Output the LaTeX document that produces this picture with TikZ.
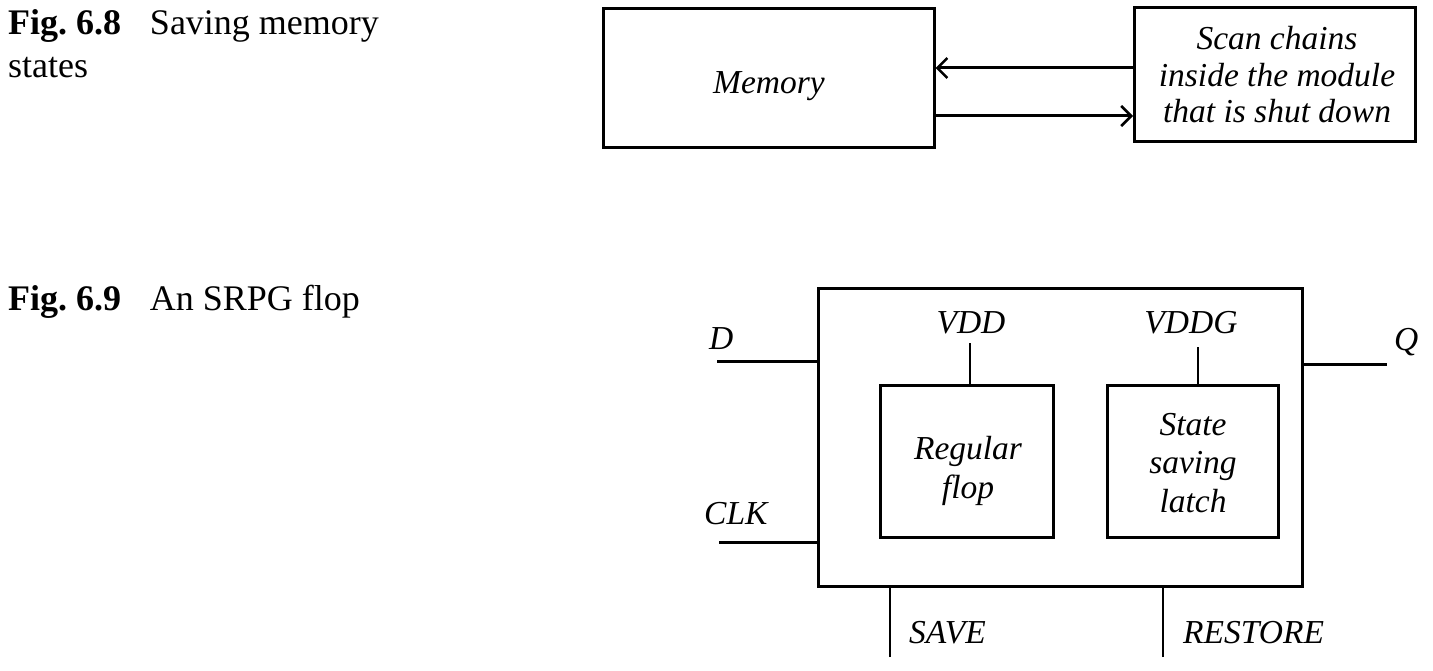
\documentclass[tikz,border=0pt]{standalone}
\usepackage{fontspec}
\newfontfamily\timesfont{Liberation Serif}
\usetikzlibrary{arrows.meta}
\newcommand\dgfont{\fontsize{33.5}{36.5}\selectfont\timesfont\itshape}
\newcommand\dgwidefont{\fontsize{33.5}{38.5}\selectfont\timesfont\itshape}
\newcommand\cpfont{\fontsize{36}{43}\selectfont\timesfont}
\begin{document}
\begin{tikzpicture}[x=1pt,y=-1pt,
  box/.style={draw, line width=3pt, inner sep=0pt},
  lbl/.style={font=\dgfont, inner sep=0pt},
  lblwide/.style={font=\dgwidefont, inner sep=0pt},
  captxt/.style={font=\cpfont, inner sep=0pt, anchor=base west},
  wire/.style={line width=3pt},
  thinwire/.style={line width=2pt},
  arr/.style={line width=3pt, -{Straight Barb[length=10pt,width=20pt,line width=2.5pt]}}]
\useasboundingbox (0,0) rectangle (1433,671);

% captions
\node[captxt] (c8a) at (8,35) {\textbf{Fig.~6.8}\hspace{0.8em}Saving memory};
\node[captxt] (c8b) at (8,78) {states};
\node[captxt] (c9) at (8,310) {\textbf{Fig.~6.9}\hspace{0.8em}An SRPG flop};

% Fig 6.8
\node[box, minimum width=331pt, minimum height=139pt] (mem) at (768.5,78.5) {};
\node[lbl, anchor=base] (memt) at (769,94) {Memory};
\node[box, minimum width=281pt, minimum height=134pt] (scan) at (1275,75) {};
\node[lbl, align=center] (scant) at (1277,75) {Scan chains\\inside the module\\that is shut down};
\coordinate (a1) at (0,68);
\coordinate (a2) at (0,116);
\draw[arr] (scan.west |- a1) -- (mem.east |- a1);
\draw[arr] (mem.east |- a2) -- (scan.west |- a2);

% Fig 6.9
\node[box, minimum width=484pt, minimum height=297pt] (outer) at (1060,437.5) {};
\node[box, minimum width=173pt, minimum height=152pt] (reg) at (966.5,461) {};
\node[box, minimum width=171pt, minimum height=152pt] (ssl) at (1192.5,461) {};
\node[lblwide, align=center] (regt) at (968,471) {Regular\\flop};
\node[lblwide, align=center] (sslt) at (1193,463) {State\\saving\\latch};

\node[lbl, anchor=base] (vdd) at (971,333) {VDD};
\node[lbl, anchor=base] (vddg) at (1191,333) {VDDG};
\coordinate (vddtop) at (970,343);
\coordinate (vddgtop) at (1198,347);
\draw[thinwire] (reg.north -| vddtop) -- (vddtop);
\draw[thinwire] (ssl.north -| vddgtop) -- (vddgtop);

\coordinate (din) at (717,361);
\draw[wire] (din) -- (din -| outer.west);
\node[lbl, anchor=base west] (dl) at (709,349) {D};

\coordinate (qout) at (1387,364);
\draw[wire] (outer.east |- qout) -- (qout);
\node[lbl, anchor=base west] (ql) at (1394,350) {Q};

\coordinate (clkin) at (719,542);
\draw[wire] (clkin) -- (clkin -| outer.west);
\node[lbl, anchor=base west] (clkl) at (704,524) {CLK};

\coordinate (savein) at (890,657);
\draw[thinwire] (savein) -- (savein |- outer.south);
\node[lbl, anchor=base west] (savel) at (909,643) {SAVE};

\coordinate (restin) at (1163,657);
\draw[thinwire] (restin) -- (restin |- outer.south);
\node[lbl, anchor=base west] (restl) at (1183,643) {RESTORE};
\end{tikzpicture}
\end{document}
